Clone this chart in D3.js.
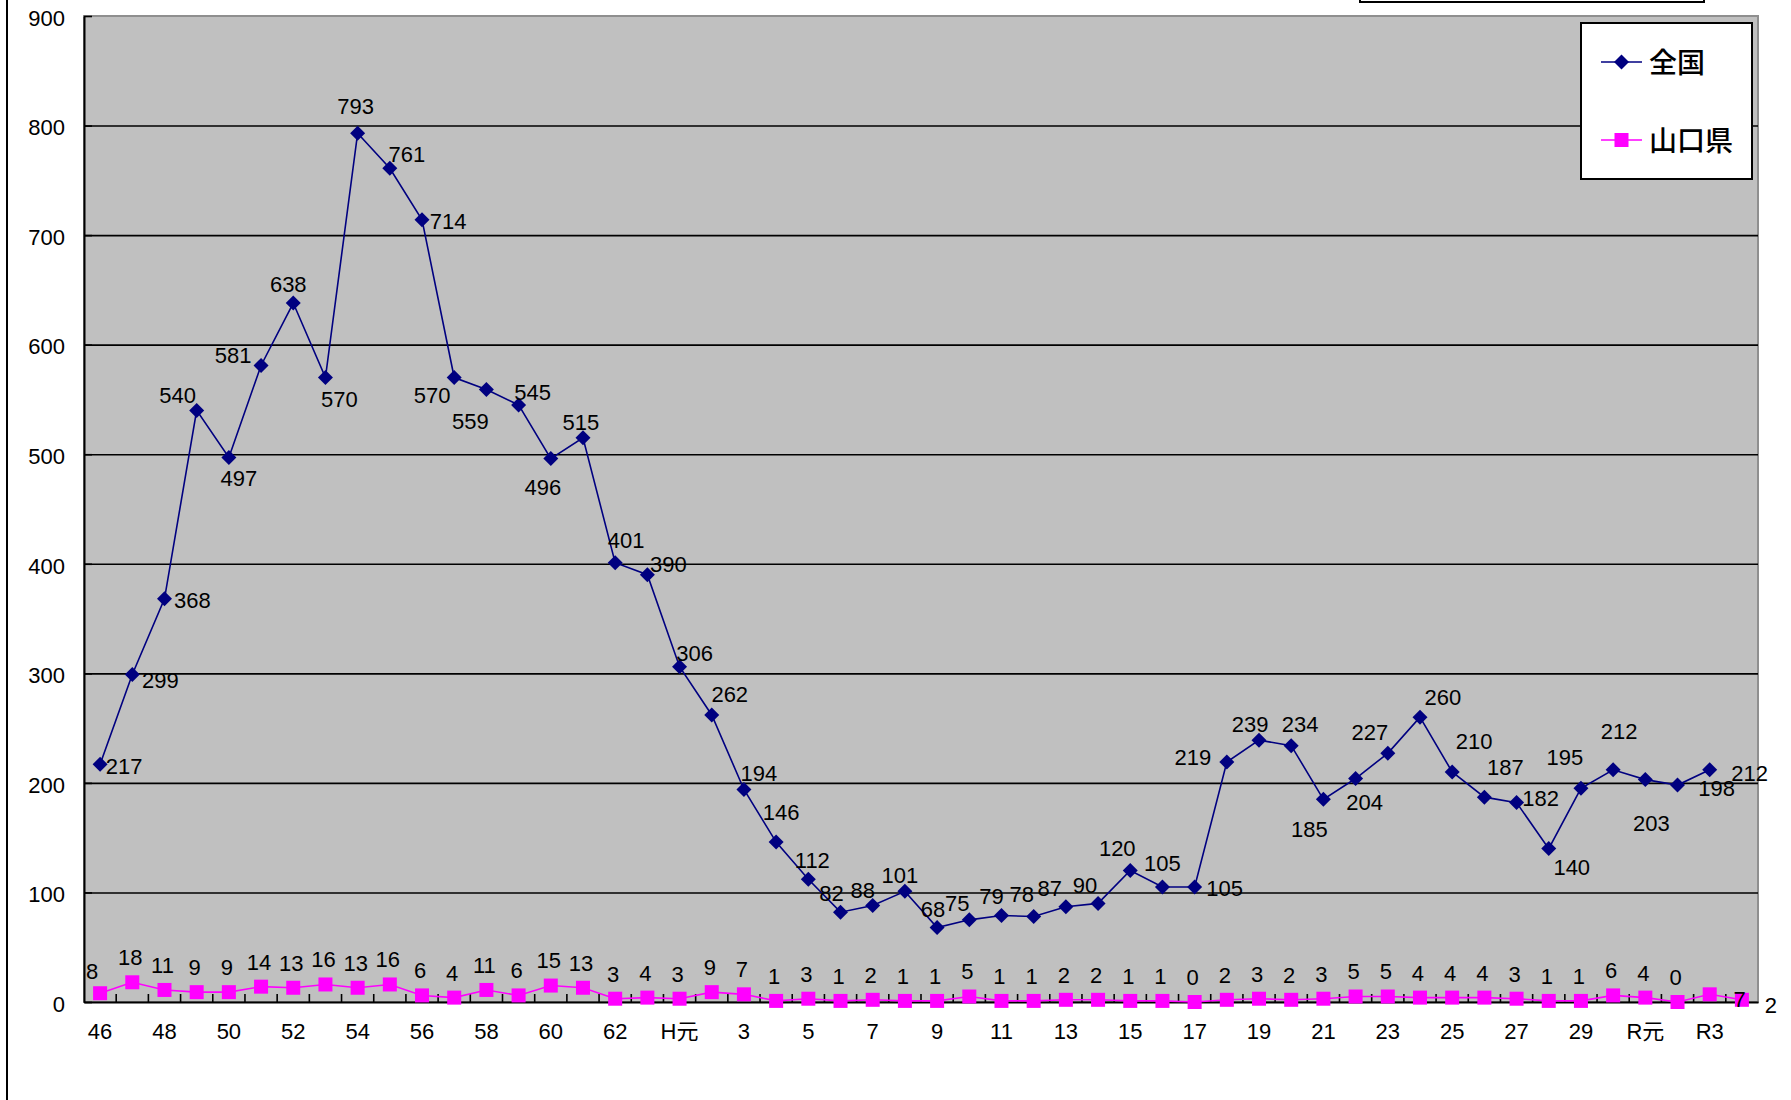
<!DOCTYPE html>
<html>
<head>
<meta charset="utf-8">
<script src="https://cdn.jsdelivr.net/npm/d3@7/dist/d3.min.js"></script>
<style>
  html, body { margin: 0; padding: 0; background: #fff; }
  svg { display: block; }
  text { font-family: "Liberation Sans", Arial, "Noto Sans CJK JP", sans-serif; fill: #000; }
  .cjk { font-family: "Noto Sans CJK JP", sans-serif; font-weight: 500; }
</style>
</head>
<body>
<svg id="chart" width="1791" height="1100"></svg>
<script>
// Fiscal-year categories: Showa 46-63, Heisei 1-30, Reiwa 1-4
const categories = [
  "46","47","48","49","50","51","52","53","54","55","56","57","58","59","60","61","62","63",
  "H元","2","3","4","5","6","7","8","9","10","11","12","13","14","15","16","17","18","19","20",
  "21","22","23","24","25","26","27","28","29","30",
  "R元","R2","R3","R4"
];

// 全国 (nationwide) counts, S46 .. R3
const nationwide = [
  217, 299, 368, 540, 497, 581, 638, 570, 793, 761, 714, 570, 559, 545, 496, 515, 401, 390,
  306, 262, 194, 146, 112, 82, 88, 101, 68, 75, 79, 78, 87, 90, 120, 105, 105, 219, 239, 234,
  185, 204, 227, 260, 210, 187, 182, 140, 195, 212,
  203, 198, 212
];

// 山口県 (Yamaguchi) counts, S46 .. R4
const yamaguchi = [
  8, 18, 11, 9, 9, 14, 13, 16, 13, 16, 6, 4, 11, 6, 15, 13, 3, 4,
  3, 9, 7, 1, 3, 1, 2, 1, 1, 5, 1, 1, 2, 2, 1, 1, 0, 2, 3, 2,
  3, 5, 5, 4, 4, 4, 3, 1, 1, 6,
  4, 0, 7, 2
];

const seriesNames = ["全国", "山口県"];
const yTicks = [0, 100, 200, 300, 400, 500, 600, 700, 800, 900];

// Label nudges for the nationwide values (dx, dy from the marker, px)
const nationwideLabelShift = [
  [24, 2], [28, 6], [28, 1], [-19, -15], [10, 21], [-28, -10], [-5, -19], [14, 22], [-2, -27],
  [17, -14], [26, 1], [-22, 18], [-16, 31], [14, -13], [-8, 28], [-2, -16], [11, -23], [21, -11],
  [15, -14], [18, -21], [15, -16], [5, -30], [4, -19], [-9, -19], [-10, -16], [-5, -16], [-4, -18],
  [-12, -17], [-10, -19], [-12, -22], [-16, -19], [-13, -18], [-13, -22], [0, -24], [30, 1],
  [-34, -5], [-9, -16], [9, -22], [-14, 30], [9, 24], [-18, -21], [23, -20], [22, -31], [21, -30],
  [24, -5], [23, 18], [-16, -31], [6, -39], [6, 43], [39, 3], [40, 3]
];
// Yamaguchi labels sit above the marker, except the first and the last two
const yamaguchiLabelShiftDefault = [-2, -25];
const yamaguchiLabelShiftOverride = { 0: [-8, -22], 50: [30, 5], 51: [29, 5] };

const colors = { nationwide: "#000080", yamaguchi: "#FF00FF" };

const svg = d3.select("#chart");
const plot = { left: 84, right: 1758, top: 16, bottom: 1002 };

const x = d3.scaleBand().domain(categories).range([plot.left, plot.right]).padding(0);
const y = d3.scaleLinear().domain([0, 900]).range([plot.bottom, plot.top]);
const cx = (i) => x(categories[i]) + x.bandwidth() / 2;

// outer frame line on the left edge
svg.append("line").attr("x1", 7).attr("x2", 7).attr("y1", 0).attr("y2", 1100)
  .attr("stroke", "#000").attr("stroke-width", 2);

// title box (only its lower part falls inside the page)
svg.append("rect").attr("x", 1360).attr("y", -30).attr("width", 344).attr("height", 32)
  .attr("fill", "#fff").attr("stroke", "#000").attr("stroke-width", 2);

// plot area
svg.append("rect")
  .attr("x", plot.left).attr("y", plot.top)
  .attr("width", plot.right - plot.left).attr("height", plot.bottom - plot.top)
  .attr("fill", "#C0C0C0").attr("stroke", "#8f8f8f").attr("stroke-width", 2);

// horizontal gridlines
svg.append("g")
  .attr("transform", `translate(${plot.left},0)`)
  .call(d3.axisLeft(y).tickValues(yTicks.filter(v => v > 0 && v < 900))
    .tickSizeInner(-(plot.right - plot.left)).tickSizeOuter(0).tickFormat(""))
  .call(g => g.select(".domain").remove())
  .call(g => g.selectAll("line").attr("stroke", "#000").attr("stroke-width", 1.6));

// y axis
svg.append("g")
  .attr("transform", `translate(${plot.left},0)`)
  .call(d3.axisLeft(y).tickValues(yTicks).tickSizeInner(-8).tickSizeOuter(0).tickPadding(19))
  .call(g => g.select(".domain").attr("stroke", "#000").attr("stroke-width", 2))
  .call(g => g.selectAll("line").attr("stroke", "#000").attr("stroke-width", 1.6))
  .call(g => g.selectAll("text").attr("font-size", 22).attr("dy", "0.42em"));

// x axis
svg.append("g")
  .attr("transform", `translate(0,${plot.bottom})`)
  .call(d3.axisBottom(x).tickSize(0).tickSizeOuter(0)
    .tickFormat((d, i) => (i % 2 === 0 ? d : "")))
  .call(g => g.select(".domain").attr("stroke", "#000").attr("stroke-width", 2))
  .call(g => g.selectAll("text").attr("font-size", 22).attr("y", 29).attr("dy", "0.36em"));

// category boundary ticks, pointing into the plot
svg.append("g").selectAll("line")
  .data(categories.slice(1))
  .join("line")
  .attr("x1", d => x(d)).attr("x2", d => x(d))
  .attr("y1", plot.bottom).attr("y2", plot.bottom - 8)
  .attr("stroke", "#000").attr("stroke-width", 1.6);

const line = d3.line().x((d, i) => cx(i)).y(d => y(d));

// Yamaguchi series
svg.append("path").datum(yamaguchi)
  .attr("d", line).attr("fill", "none")
  .attr("stroke", colors.yamaguchi).attr("stroke-width", 1.6);
svg.append("g").selectAll("rect")
  .data(yamaguchi)
  .join("rect")
  .attr("x", (d, i) => cx(i) - 7).attr("y", d => y(d) - 7)
  .attr("width", 14).attr("height", 14)
  .attr("fill", colors.yamaguchi);

// nationwide series
svg.append("path").datum(nationwide)
  .attr("d", line).attr("fill", "none")
  .attr("stroke", colors.nationwide).attr("stroke-width", 1.6);
const diamond = "M0,-7.5L7.5,0L0,7.5L-7.5,0Z";
svg.append("g").selectAll("path")
  .data(nationwide)
  .join("path")
  .attr("d", diamond)
  .attr("transform", (d, i) => `translate(${cx(i)},${y(d)})`)
  .attr("fill", colors.nationwide);

// value labels
svg.append("g").selectAll("text")
  .data(nationwide)
  .join("text")
  .attr("x", (d, i) => cx(i) + nationwideLabelShift[i][0])
  .attr("y", (d, i) => y(d) + nationwideLabelShift[i][1])
  .attr("dy", "0.36em")
  .attr("text-anchor", "middle")
  .attr("font-size", 22)
  .text(d => d);

svg.append("g").selectAll("text")
  .data(yamaguchi)
  .join("text")
  .attr("x", (d, i) => cx(i) + (yamaguchiLabelShiftOverride[i] || yamaguchiLabelShiftDefault)[0])
  .attr("y", (d, i) => y(d) + (yamaguchiLabelShiftOverride[i] || yamaguchiLabelShiftDefault)[1])
  .attr("dy", "0.36em")
  .attr("text-anchor", "middle")
  .attr("font-size", 22)
  .text(d => d);

// legend
const legend = svg.append("g");
legend.append("rect")
  .attr("x", 1581).attr("y", 23).attr("width", 171).attr("height", 156)
  .attr("fill", "#fff").attr("stroke", "#000").attr("stroke-width", 2);
const legendRows = [
  { name: seriesNames[0], color: colors.nationwide, shape: "diamond", y: 62 },
  { name: seriesNames[1], color: colors.yamaguchi, shape: "square", y: 140 }
];
legendRows.forEach(r => {
  legend.append("line").attr("x1", 1601).attr("x2", 1642).attr("y1", r.y).attr("y2", r.y)
    .attr("stroke", r.color).attr("stroke-width", 1.6);
  if (r.shape === "diamond") {
    legend.append("path").attr("d", diamond)
      .attr("transform", `translate(1621.5,${r.y})`).attr("fill", r.color);
  } else {
    legend.append("rect").attr("x", 1614.5).attr("y", r.y - 7)
      .attr("width", 14).attr("height", 14).attr("fill", r.color);
  }
  legend.append("text").attr("class", "cjk")
    .attr("x", 1649).attr("y", r.y + 1).attr("dy", "0.36em")
    .attr("font-size", 28).text(r.name);
});
</script>
</body>
</html>
